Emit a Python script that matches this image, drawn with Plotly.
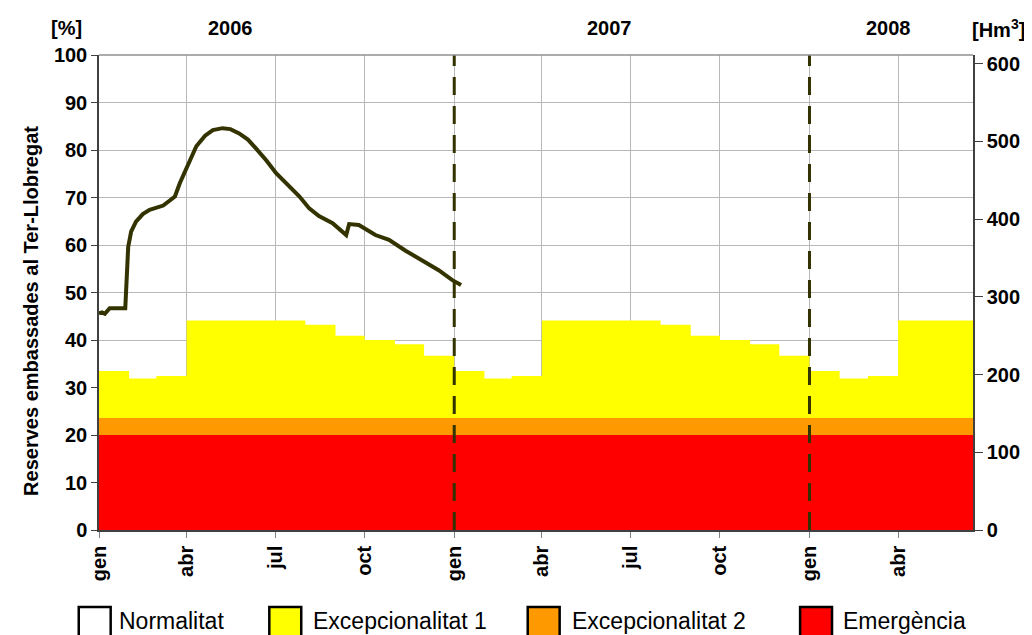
import plotly.graph_objects as go

# monthly thresholds (% of capacity), Jan 2006 .. Jun 2008
months = ['2006-01-01', '2006-02-01', '2006-03-01', '2006-04-01', '2006-05-01', '2006-06-01',
          '2006-07-01', '2006-08-01', '2006-09-01', '2006-10-01', '2006-11-01', '2006-12-01',
          '2007-01-01', '2007-02-01', '2007-03-01', '2007-04-01', '2007-05-01', '2007-06-01',
          '2007-07-01', '2007-08-01', '2007-09-01', '2007-10-01', '2007-11-01', '2007-12-01',
          '2008-01-01', '2008-02-01', '2008-03-01', '2008-04-01', '2008-05-01', '2008-06-01']
excep1 = [33.5, 31.9, 32.4, 44.1, 44.1, 44.1, 44.1, 43.2, 40.9, 40.0, 39.1, 36.7,
          33.5, 31.9, 32.4, 44.1, 44.1, 44.1, 44.1, 43.2, 40.9, 40.0, 39.1, 36.7,
          33.5, 31.9, 32.4, 44.1, 44.1, 44.1]
excep2 = [23.6] * len(months)
emerg = [20.0] * len(months)
x_end = '2008-06-17'

# reserves Ter-Llobregat (%)
res_dates = ['2006-01-01', '2006-01-04', '2006-01-07', '2006-01-12', '2006-01-28', '2006-01-31',
             '2006-02-03', '2006-02-08', '2006-02-15', '2006-02-22', '2006-03-08', '2006-03-20',
             '2006-03-25', '2006-04-02', '2006-04-11', '2006-04-20', '2006-04-28', '2006-05-08',
             '2006-05-16', '2006-05-25', '2006-06-03', '2006-06-11', '2006-06-22', '2006-07-02',
             '2006-07-16', '2006-07-26', '2006-08-05', '2006-08-15', '2006-08-29', '2006-09-12',
             '2006-09-15', '2006-09-25', '2006-10-12', '2006-10-26', '2006-11-12', '2006-11-29',
             '2006-12-16', '2006-12-30', '2007-01-08']
res_vals = [45.6, 45.8, 45.5, 46.7, 46.7, 59.6,
            62.8, 64.9, 66.5, 67.4, 68.3, 70.2,
            73.0, 76.5, 80.8, 83.0, 84.2, 84.6,
            84.4, 83.5, 82.2, 80.4, 77.8, 75.1,
            72.3, 70.2, 67.7, 66.1, 64.6, 62.1,
            64.4, 64.2, 62.1, 61.1, 58.8, 56.8,
            54.7, 52.6, 51.6]

tick_vals = ['2006-01-01', '2006-04-01', '2006-07-01', '2006-10-01',
             '2007-01-01', '2007-04-01', '2007-07-01', '2007-10-01',
             '2008-01-01', '2008-04-01']
tick_text = ['gen', 'abr', 'jul', 'oct', 'gen', 'abr', 'jul', 'oct', 'gen', 'abr']

FONT = 'Liberation Sans, Arial, sans-serif'

fig = go.Figure()
fig.add_trace(go.Scatter(x=months + [x_end], y=emerg + [emerg[-1]], mode='lines',
                         line=dict(width=0, shape='hv'), fill='tozeroy',
                         fillcolor='#FF0000', hoverinfo='skip', showlegend=False))
fig.add_trace(go.Scatter(x=months + [x_end], y=excep2 + [excep2[-1]], mode='lines',
                         line=dict(width=0, shape='hv'), fill='tonexty',
                         fillcolor='#FF9900', hoverinfo='skip', showlegend=False))
fig.add_trace(go.Scatter(x=months + [x_end], y=excep1 + [excep1[-1]], mode='lines',
                         line=dict(width=0, shape='hv'), fill='tonexty',
                         fillcolor='#FFFF00', hoverinfo='skip', showlegend=False))
fig.add_trace(go.Scatter(x=res_dates, y=res_vals, mode='lines',
                         line=dict(color='#333300', width=4), showlegend=False))
# keeps the Hm3 axis alive
fig.add_trace(go.Scatter(x=[months[0]], y=[0], yaxis='y2', mode='markers',
                         marker=dict(opacity=0), hoverinfo='skip', showlegend=False))

# year separators
for d in ['2007-01-01', '2008-01-01']:
    fig.add_shape(type='line', xref='x', yref='paper', x0=d, x1=d, y0=0, y1=1,
                  line=dict(color='#333300', width=3, dash='18px,11px'))

tick_font = dict(family=FONT, size=20, color='black', weight='bold')
# page has an 8px body margin, so the figure is 1024x627
fig.update_layout(
    width=1024, height=627,
    margin=dict(l=91.3, r=56.7, t=47, b=105),
    plot_bgcolor='white', paper_bgcolor='white',
    showlegend=False,
    xaxis=dict(type='date', range=['2006-01-01', x_end], tickvals=tick_vals, ticktext=tick_text,
               tickangle=-90, tickfont=tick_font, ticks='outside', ticklen=6, tickcolor='#808080',
               showgrid=True, gridcolor='#b8b8b8', gridwidth=1,
               showline=True, linecolor='#404040', linewidth=1.5, mirror=False, zeroline=False),
    yaxis=dict(range=[0, 100], dtick=10, tickfont=tick_font, ticks='outside', ticklen=6,
               tickcolor='#404040', showgrid=True, gridcolor='#b8b8b8', gridwidth=1,
               showline=True, linecolor='#404040', linewidth=1.5, zeroline=False),
    yaxis2=dict(range=[0, 611], dtick=100, overlaying='y', side='right', anchor='x',
                tickfont=tick_font, ticks='outside', ticklen=8, tickcolor='#404040',
                showgrid=False, showline=True, linecolor='#404040', linewidth=1.5, zeroline=False),
)
# top border
fig.add_shape(type='line', xref='paper', yref='paper', x0=0, x1=1, y0=1, y1=1,
              line=dict(color='#909090', width=1.5))

# helpers: page pixel -> paper coords (plot area spans x 99.3..975.3, y 55..530)
px_x = lambda x: (x - 99.3) / 876.0
px_y = lambda y: (530.0 - y) / 475.0

ann_font = dict(family=FONT, size=20, color='black', weight='bold')
for label, xc in [('2006', 231), ('2007', 611), ('2008', 891), ('[%]', 67),
                  ('[Hm<sup>3</sup>]', 1001)]:
    fig.add_annotation(text=label, xref='paper', yref='paper', x=px_x(xc), y=px_y(28),
                       showarrow=False, font=ann_font, xanchor='center', yanchor='middle')
fig.add_annotation(text='Reserves embassades al Ter-Llobregat', xref='paper', yref='paper',
                   x=px_x(18), y=px_y(311), textangle=-90, showarrow=False,
                   font=dict(family=FONT, size=20, color='black', weight='bold'))

# legend drawn by hand
leg = [('Normalitat', 'white', 79, 117), ('Excepcionalitat 1', '#FFFF00', 270, 312),
       ('Excepcionalitat 2', '#FF9900', 529, 571), ('Emergència', '#FF0000', 802, 843)]
for name, col, bx, tx in leg:
    fig.add_shape(type='rect', xref='paper', yref='paper', x0=px_x(bx), x1=px_x(bx + 32),
                  y0=px_y(642), y1=px_y(607), fillcolor=col, line=dict(color='black', width=2.5))
    fig.add_annotation(text=name, xref='paper', yref='paper', x=px_x(tx), y=px_y(621),
                       xanchor='left', yanchor='middle', showarrow=False,
                       font=dict(family=FONT, size=23, color='black'))

fig.write_html('out.html')
